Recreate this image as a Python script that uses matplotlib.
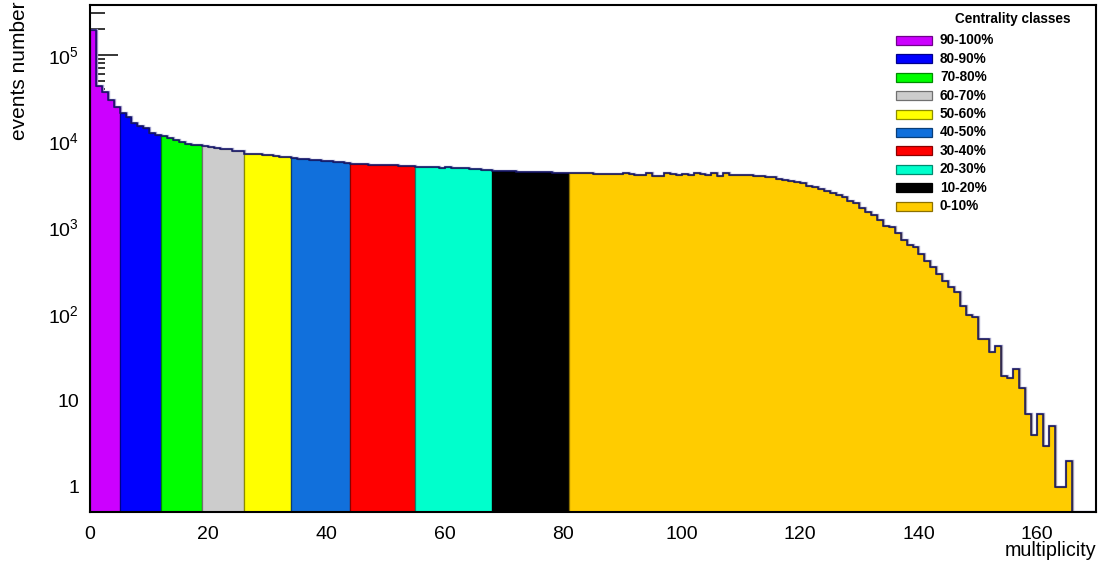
import numpy as np
import matplotlib
matplotlib.use("Agg")
import matplotlib.pyplot as plt
from matplotlib.patches import Rectangle
from matplotlib.colors import to_rgb
from matplotlib.ticker import LogLocator, NullFormatter, FixedLocator, FixedFormatter

plt.rcParams['font.family'] = ['Liberation Sans', 'DejaVu Sans']
plt.rcParams['mathtext.fontset'] = 'custom'
plt.rcParams['mathtext.rm'] = 'Liberation Sans'
plt.rcParams['mathtext.it'] = 'Liberation Sans:italic'
plt.rcParams['mathtext.bf'] = 'Liberation Sans:bold'

# ---- data: event multiplicity histogram, unit-width bins 0..170 ----
bin_edges = np.arange(0, 171)
counts = np.array([
    # 0-4
    193000, 43400, 36700, 29900, 24600,
    # 5-11
    21300, 18800, 16300, 15000, 14100, 12500, 11800,
    # 12-18
    11500, 10900, 10300, 9840, 9250, 9080, 8930,
    # 19-25
    8780, 8580, 8380, 8180, 8000, 7700, 7620,
    # 26-33
    7150, 7100, 7000, 6950, 6850, 6700, 6600, 6500,
    # 34-43
    6330, 6250, 6150, 6080, 6000, 5920, 5850, 5780, 5700, 5640,
    # 44-54
    5430, 5400, 5380, 5350, 5300, 5270, 5250, 5230, 5200, 5180, 5150,
    # 55-67
    5050, 5020, 5000, 4950, 4920, 4950, 4900, 4880, 4850, 4800, 4700, 4650, 4600,
    # 68-80
    4550, 4530, 4520, 4470, 4420, 4440, 4400, 4380, 4370, 4350, 4330, 4320, 4300,
    # 81-112
    4300, 4320, 4330, 4290, 4180, 4150, 4170, 4140, 4160, 4300,
    4150, 4100, 4080, 4300, 3980, 3990, 4230, 4150, 4100, 4120,
    4060, 4300, 4120, 4100, 4300, 3980, 4230, 4050, 4100, 4080,
    4000, 3990,
    # 113-129
    3945, 3872, 3812, 3670, 3545, 3455, 3390, 3250, 3020, 2965,
    2790, 2645, 2528, 2377, 2240, 2020, 1905,
    # 130-165
    1667, 1525, 1396, 1222, 1040, 1005, 857, 716, 627, 600,
    494, 413, 346, 290, 242, 207, 181, 123, 97, 93,
    51, 51, 36, 43, 19, 18, 23, 14, 7, 4,
    7, 3, 5, 1, 1, 2,
    # 166-169
    0, 0, 0, 0,
], dtype=float)

# centrality classes: bin-edge boundaries, labels and fill colours
class_edges = [0, 5, 12, 19, 26, 34, 44, 55, 68, 81, 170]
class_labels = ['90-100%', '80-90%', '70-80%', '60-70%', '50-60%',
                '40-50%', '30-40%', '20-30%', '10-20%', '0-10%']
class_colors = ['#cc00ff', '#0000ff', '#00ff00', '#cccccc', '#ffff00',
                '#1170dc', '#ff0000', '#00ffcc', '#000000', '#ffcc00']

x_ticks = [0, 20, 40, 60, 80, 100, 120, 140, 160]
y_ticks = [1, 10, 100, 1000, 10000, 100000]
y_tick_labels = ['1', '10', r'$10^{2}$', r'$10^{3}$', r'$10^{4}$', r'$10^{5}$']

x_range = (0, 170)
y_range = (0.51, 3.76e5)


def darker(color, f=0.6):
    r, g, b = to_rgb(color)
    return (r * f, g * f, b * f)


W, H = 1105, 561
fig = plt.figure(figsize=(W / 100, H / 100), dpi=100)
ax = fig.add_axes([90 / W, 1 - 512 / H, 1006 / W, 507 / H])
ax.set_yscale('log')
ax.set_xlim(*x_range)
ax.set_ylim(*y_range)
ax.set_axisbelow(True)

ymin = y_range[0]
shown = np.maximum(counts, ymin)

# light halo under the outline
ax.stairs(shown, bin_edges, baseline=ymin, color='#a3a3cc', linewidth=2.4, zorder=1)

# filled centrality slices
for lo, hi, col in zip(class_edges[:-1], class_edges[1:], class_colors):
    ax.stairs(shown[lo:hi], bin_edges[lo:hi + 1], baseline=ymin, fill=True,
              facecolor=col, edgecolor=darker(col, 0.55), linewidth=0.9, zorder=2)

# histogram outline
ax.stairs(shown, bin_edges, baseline=ymin, color='#17176a', linewidth=1.1, zorder=3)

# axes frame and ticks
for s in ax.spines.values():
    s.set_linewidth(1.5)
    s.set_zorder(5)

ax.xaxis.set_major_locator(FixedLocator(x_ticks))
ax.set_xticklabels([str(v) for v in x_ticks])
ax.tick_params(axis='x', which='both', length=0, pad=10, labelsize=14)

ax.yaxis.set_major_locator(FixedLocator(y_ticks))
ax.yaxis.set_major_formatter(FixedFormatter(y_tick_labels))
ax.yaxis.set_minor_locator(LogLocator(base=10, subs=np.arange(2, 10)))
ax.yaxis.set_minor_formatter(NullFormatter())
ax.tick_params(axis='y', which='major', direction='in', length=20, width=1.1,
               pad=8, labelsize=14)
ax.tick_params(axis='y', which='minor', direction='in', length=11, width=1.1)

ax.set_xlabel('multiplicity', loc='right', fontsize=14.2)
ax.xaxis.label.set_verticalalignment('center')
ax.xaxis.set_label_coords(1.0, (512 - 550) / 507)

ax.set_ylabel('events number', loc='top', fontsize=15)
ax.yaxis.label.set_verticalalignment('center')
ax.yaxis.set_label_coords((20 - 90) / 1006, 1 + 3 / 507)

# legend of centrality classes
fig.text(1013 / W, 1 - 19.5 / H, 'Centrality classes', ha='center', va='center',
         fontsize=9.8, fontweight='bold')
for k, (lab, col) in enumerate(zip(class_labels, class_colors)):
    yc = 40.5 + 18.4 * k
    fig.add_artist(Rectangle((896 / W, 1 - (yc + 4.5) / H), 36 / W, 9 / H,
                             transform=fig.transFigure, facecolor=col,
                             edgecolor=darker(col, 0.55), linewidth=0.9))
    fig.text(940 / W, 1 - yc / H, lab, ha='left', va='center',
             fontsize=9.8, fontweight='bold')

fig.savefig('out.png', dpi=100)
